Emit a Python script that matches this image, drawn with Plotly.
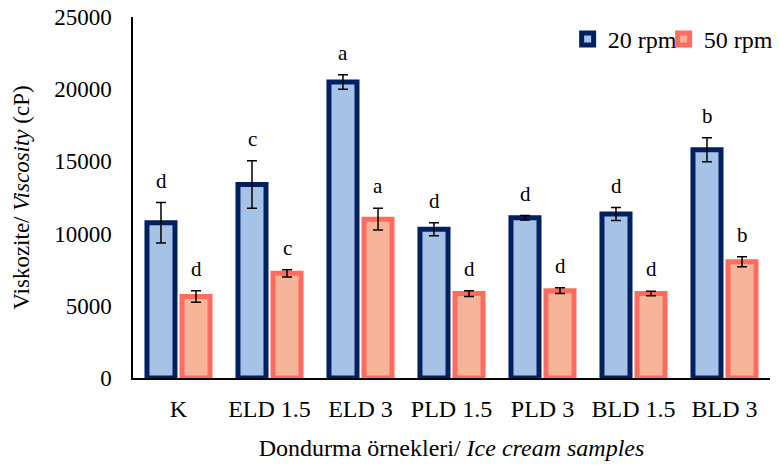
import plotly.graph_objects as go

categories = ["K", "ELD 1.5", "ELD 3", "PLD 1.5", "PLD 3", "BLD 1.5", "BLD 3"]
rpm20 = [10750, 13400, 20500, 10300, 11100, 11350, 15800]
rpm20_err = [1400, 1650, 500, 450, 150, 450, 830]
rpm50 = [5650, 7250, 11000, 5850, 6050, 5850, 8050]
rpm50_err = [400, 250, 750, 200, 200, 150, 350]
letters20 = ["d", "c", "a", "d", "d", "d", "b"]
letters50 = ["d", "c", "a", "d", "d", "d", "b"]
yticks = [0, 5000, 10000, 15000, 20000, 25000]
ytick_text = ["0", "5000", "10000", "15000", "20000", "25000"]

FONT = "Liberation Serif, Times New Roman, serif"
FS = 24
FS_LETTER = 21

fig = go.Figure()
fig.add_trace(go.Bar(
    name="20 rpm", x=categories, y=rpm20, legendwidth=51,
    marker=dict(color="#a6c2e7", line=dict(color="#002060", width=5)),
    error_y=dict(type="data", array=rpm20_err, visible=True, color="black", thickness=1.5, width=5),
))
fig.add_trace(go.Bar(
    name="50 rpm", x=categories, y=rpm50,
    marker=dict(color="#f6b598", line=dict(color="#ff6b5e", width=5)),
    error_y=dict(type="data", array=rpm50_err, visible=True, color="black", thickness=1.5, width=5),
))

annotations = []
for cat, v, e, t in zip(categories, rpm20, rpm20_err, letters20):
    annotations.append(dict(x=cat, y=v + e, text=t, showarrow=False, xref="x", yref="y",
                            xshift=-17.5, yshift=8, yanchor="bottom",
                            font=dict(family=FONT, size=FS_LETTER, color="black")))
for cat, v, e, t in zip(categories, rpm50, rpm50_err, letters50):
    annotations.append(dict(x=cat, y=v + e, text=t, showarrow=False, xref="x", yref="y",
                            xshift=17.5, yshift=8, yanchor="bottom",
                            font=dict(family=FONT, size=FS_LETTER, color="black")))

fig.update_layout(
    width=779, height=465,
    margin=dict(l=133, r=9, t=17, b=87, autoexpand=False),
    paper_bgcolor="white", plot_bgcolor="white",
    font=dict(family=FONT, size=FS, color="black"),
    barmode="group", bargap=0.23, bargroupgap=0.2,
    annotations=annotations,
    legend=dict(orientation="h", x=1.012, xanchor="right", y=1.0, yanchor="top",
                font=dict(family=FONT, size=FS, color="black"), bgcolor="rgba(0,0,0,0)",
                tracegroupgap=0),
    xaxis=dict(showline=True, linecolor="black", linewidth=1.5, ticks="",
               showgrid=False, tickfont=dict(family=FONT, size=FS),
               ticklabelstandoff=8, automargin=False,
               title=dict(text="Dondurma örnekleri/ <i>Ice cream samples</i>",
                          font=dict(family=FONT, size=FS), standoff=19)),
    yaxis=dict(range=[0, 25000], tickvals=yticks, ticktext=ytick_text, showline=True,
               linecolor="black", linewidth=1.5, ticks="", showgrid=False, zeroline=False,
               tickfont=dict(family=FONT, size=23), ticklabelstandoff=15,
               ticklabeloverflow="allow", automargin=False,
               title=dict(text="Viskozite/ <i>Viscosity</i> (cP)",
                          font=dict(family=FONT, size=23), standoff=18)),
)

fig.write_html("out.html", config={"displayModeBar": False},
               post_script="document.body.style.margin='0';")
